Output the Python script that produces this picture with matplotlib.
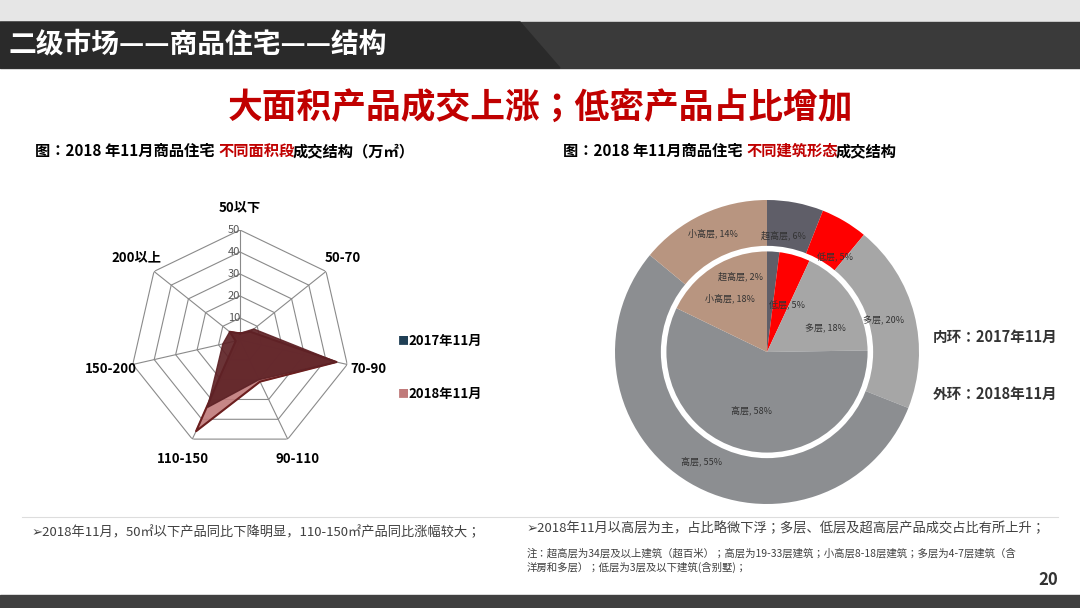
import matplotlib.pyplot as plt
import numpy as np
from matplotlib.patches import Rectangle, Polygon

plt.rcParams['font.family'] = ['Noto Sans CJK JP', 'Noto Sans CJK SC', 'DejaVu Sans']

# radar data
radar_cats = ['50以下', '50-70', '70-90', '90-110', '110-150', '150-200', '200以上']
radar_2017 = [3, 8, 45, 20, 34, 8, 6]
radar_2018 = [3, 6, 45, 21, 46, 2, 6]

# pie data
pie_labels = ['超高层', '低层', '多层', '高层', '小高层']
outer_vals = [6, 5, 20, 55, 14]
inner_vals = [2, 5, 18, 58, 18]
pie_colors = ['#5f5e68', '#ff0000', '#a6a6a6', '#8c8e91', '#b89580']

W, H = 1080, 608
fig = plt.figure(figsize=(10.8, 6.08), dpi=100)
bg = fig.add_axes([0, 0, 1, 1])
bg.set_xlim(0, W); bg.set_ylim(H, 0); bg.axis('off')

# header bars
bg.add_patch(Rectangle((0, 0), W, 22, color='#e6e6e6'))
bg.add_patch(Polygon([(0, 22), (1080, 22), (1080, 68), (0, 68)], color='#3a3a3a'))
bg.add_patch(Polygon([(0, 22), (520, 22), (560, 68), (0, 68)], color='#2a2a2a'))
bg.add_patch(Rectangle((0, 595), W, 13, color='#404040'))
bg.text(8, 45, '二级市场——商品住宅——结构', color='white', fontsize=20, fontweight='bold', va='center')
bg.text(540, 107, '大面积产品成交上涨；低密产品占比增加', color='#c00000', fontsize=25,
        fontweight='bold', ha='center', va='center')
bg.text(35, 151, '图：2018 年11月商品住宅', fontsize=11, fontweight='bold', va='center')
bg.text(218, 151, '不同面积段', fontsize=11, fontweight='bold', va='center', color='#c00000')
bg.text(293, 151, '成交结构（万㎡）', fontsize=11, fontweight='bold', va='center')
bg.text(563, 151, '图：2018 年11月商品住宅', fontsize=11, fontweight='bold', va='center')
bg.text(746, 151, '不同建筑形态', fontsize=11, fontweight='bold', va='center', color='#c00000')
bg.text(836, 151, '成交结构', fontsize=11, fontweight='bold', va='center')
bg.text(933, 337, '内环：2017年11月', fontsize=10.5, fontweight='bold', va='center', color='#333333')
bg.text(933, 394, '外环：2018年11月', fontsize=10.5, fontweight='bold', va='center', color='#333333')
bg.text(32, 532, '➢2018年11月，50㎡以下产品同比下降明显，110-150㎡产品同比涨幅较大；',
        fontsize=9.5, va='center', color='#404040')
bg.text(527, 528, '➢2018年11月以高层为主，占比略微下浮；多层、低层及超高层产品成交占比有所上升；',
        fontsize=9.5, va='center', color='#404040')
bg.text(527, 553, '注：超高层为34层及以上建筑（超百米）；高层为19-33层建筑；小高层8-18层建筑；多层为4-7层建筑（含',
        fontsize=7.5, va='center', color='#404040')
bg.text(527, 567, '洋房和多层）；低层为3层及以下建筑(含别墅)；', fontsize=7.5, va='center', color='#404040')
bg.text(1058, 580, '20', fontsize=12, fontweight='bold', ha='right', va='center', color='#333333')
bg.axhline(517, xmin=0.02, xmax=0.98, color='#dddddd', lw=0.8)

# radar chart (polygon grid)
rax = fig.add_axes([130 / W, 1 - 450 / H, 220 / W, 220 / H], projection='polar')
n = len(radar_cats)
ang = np.linspace(0, 2 * np.pi, n, endpoint=False)
rax.set_theta_offset(np.pi / 2)
rax.set_theta_direction(-1)
rax.set_ylim(0, 50)
rax.axis('off')
for r in range(10, 51, 10):
    rax.plot(np.append(ang, ang[0]), [r] * (n + 1), color='#8a8a8a', lw=0.8)
for a in ang:
    rax.plot([a, a], [0, 50], color='#8a8a8a', lw=0.8)
for r in range(0, 51, 10):
    rax.text(0, r, str(r), fontsize=8, color='#555555', ha='right', va='center')
a2 = np.append(ang, ang[0])
rax.fill(a2, radar_2018 + radar_2018[:1], color='#c07a7a', alpha=0.9, zorder=3)
rax.plot(a2, radar_2018 + radar_2018[:1], color='#6b1f1f', lw=1.5, zorder=4)
rax.fill(a2, radar_2017 + radar_2017[:1], color='#5e2226', alpha=0.92, zorder=5)
for a, c in zip(ang, radar_cats):
    rax.text(a, 60, c, fontsize=9.5, fontweight='bold', ha='center', va='center')
bg.text(398, 341, '■', color='#1f3f55', fontsize=8, va='center')
bg.text(408, 341, '2017年11月', fontsize=9.5, fontweight='bold', va='center')
bg.text(398, 394, '■', color='#c07a7a', fontsize=8, va='center')
bg.text(408, 394, '2018年11月', fontsize=9.5, fontweight='bold', va='center')

# donut chart
pax = fig.add_axes([(767 - 152) / W, 1 - (352 + 152) / H, 304 / W, 304 / H])
pax.pie(outer_vals, colors=pie_colors, startangle=90, counterclock=False, radius=1,
        wedgeprops=dict(width=0.32, edgecolor='none'))
pax.pie(inner_vals, colors=pie_colors, startangle=90, counterclock=False, radius=0.68,
        wedgeprops=dict(edgecolor='white', linewidth=0))
circ = plt.Circle((0, 0), 0.68, fill=False, edgecolor='white', lw=4)
pax.add_patch(circ)
pax.set_xlim(-1.0, 1.0); pax.set_ylim(-1.0, 1.0)
pax.set_aspect('equal')

def place(vals, r, fmt, shifts):
    start = 90
    for lab, v, (dx, dy) in zip(pie_labels, vals, shifts):
        mid = np.deg2rad(start - v * 3.6 / 2)
        start -= v * 3.6
        pax.text(r * np.cos(mid) + dx, r * np.sin(mid) + dy, fmt.format(lab, v), fontsize=6.5,
                 ha='center', va='center', color='#333333')

place(outer_vals, 0.84, '{}, {}%', [(-0.05, -0.06), (0.02, -0.1), (-0.05, 0.0), (0, 0), (0.0, 0.02)])
place(inner_vals, 0.4, '{}, {}%', [(-0.2, 0.1), (0.02, -0.08), (0.05, -0.06), (0, 0), (-0.05, 0.0)])
plt.savefig('out.png', dpi=100)
